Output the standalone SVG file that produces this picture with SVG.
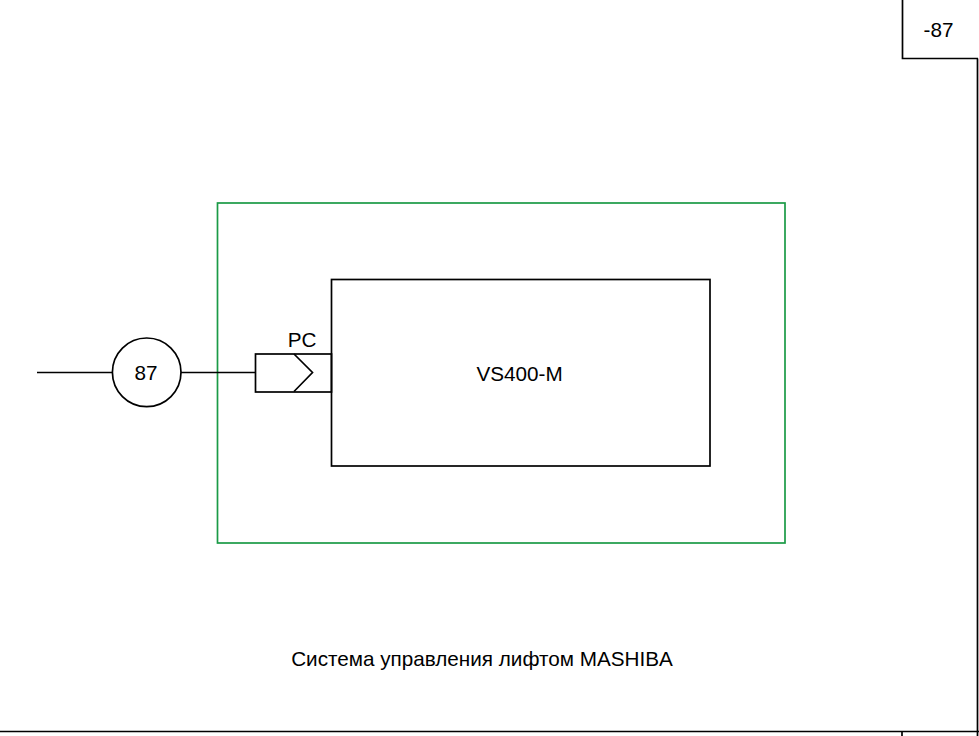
<svg xmlns="http://www.w3.org/2000/svg" width="979" height="736" viewBox="0 0 979 736">
<style>
.t{font-family:"Liberation Sans",Arial,sans-serif;font-size:20.7px;fill:#000}
.k{fill:none;stroke:#000;stroke-width:1.7}
</style>
<rect width="979" height="736" fill="#fff"/>
<g id="frame">
<line x1="0" y1="731.5" x2="979" y2="731.5" class="k" stroke-width="2"/>
<line x1="977.5" y1="58.5" x2="977.5" y2="736" class="k" stroke-width="2"/>
<line x1="902" y1="731.5" x2="902" y2="736" class="k"/>
</g>
<g id="sheet-number">
<polyline points="902.5,0 902.5,58.5 978,58.5" class="k"/>
<text x="938.5" y="36.5" text-anchor="middle" class="t">-87</text>
</g>
<g id="system">
<rect x="217.5" y="203" width="567.5" height="340" fill="none" stroke="#1a9a46" stroke-width="1.7"/>
<text x="482" y="666" text-anchor="middle" class="t">Система управления лифтом MASHIBA</text>
</g>
<g id="vs400">
<rect x="331.5" y="279.5" width="378.5" height="186.5" class="k"/>
<text x="519.5" y="380.5" text-anchor="middle" class="t">VS400-M</text>
</g>
<g id="port-pc">
<rect x="255.5" y="354" width="76" height="38" class="k"/>
<polyline points="294,354 312.5,372.5 294,391.5" class="k"/>
<text x="302" y="346.5" text-anchor="middle" class="t">PC</text>
</g>
<g id="cable-87">
<circle cx="146.7" cy="372.3" r="34.3" class="k"/>
<text x="146" y="380" text-anchor="middle" class="t">87</text>
</g>
<g id="connectors">
<line x1="37" y1="372.5" x2="112.5" y2="372.5" class="k" stroke-width="2.2"/>
<line x1="181" y1="372.5" x2="255.5" y2="372.5" class="k" stroke-width="2.2"/>
</g>
</svg>
